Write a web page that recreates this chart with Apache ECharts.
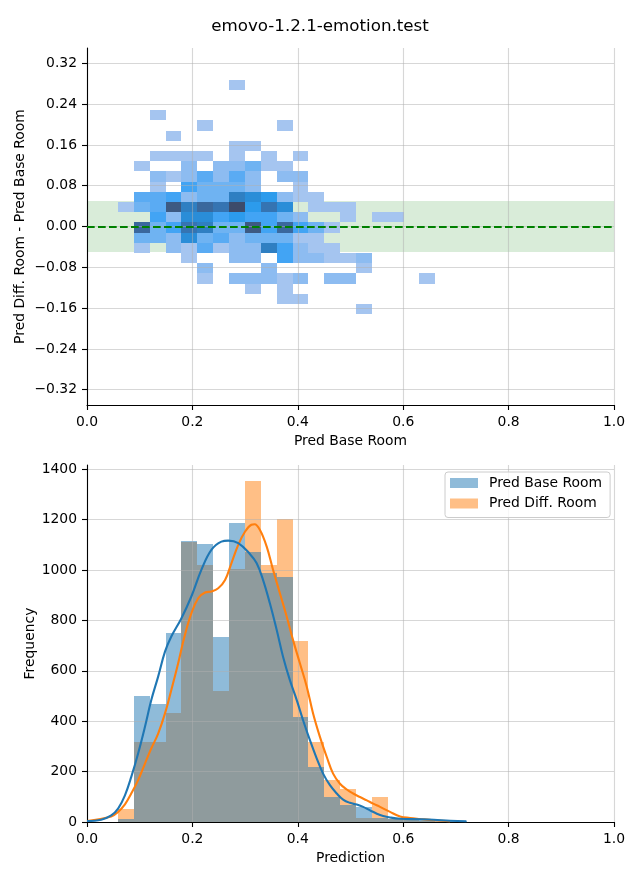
<!DOCTYPE html>
<html>
<head>
<meta charset="utf-8">
<script src="https://cdn.jsdelivr.net/npm/echarts@6/dist/echarts.min.js"></script>
<style>
html,body{margin:0;padding:0;background:#fff;}
#chart{width:640px;height:880px;}
</style>
</head>
<body>
<div id="chart"></div>
<script>
// ---------------- DATA ----------------
const titleText = 'emovo-1.2.1-emotion.test';
const seriesNames = ['Pred Base Room', 'Pred Diff. Room'];

// common histogram bins (x)
const xBinStart = 0.0589;
const xBinWidth = 0.0301;
// heatmap bins (y)
const yBinStart = -0.172;
const yBinHeight = 0.02;

// 2D histogram cells: [column, row, count]
const heatCells = [
  [7,22,1],
  [2,19,1],
  [5,18,1],[10,18,1],
  [3,17,1],
  [7,16,1],[8,16,1],
  [2,15,1],[3,15,1],[4,15,1],[5,15,1],[7,15,1],[9,15,1],[11,15,1],
  [1,14,1],[4,14,2],[6,14,2],[7,14,2],[8,14,3],[9,14,1],[10,14,1],
  [2,13,2],[3,13,1],[4,13,2],[5,13,4],[6,13,2],[7,13,4],[8,13,2],[10,13,2],[11,13,2],
  [2,12,1],[4,12,5],[5,12,3],[6,12,3],[7,12,3],[8,12,2],[11,12,1],
  [1,11,4],[2,11,4],[3,11,5],[4,11,2],[5,11,3],[6,11,3],[7,11,8],[8,11,7],[9,11,6],[10,11,2],[11,11,1],[12,11,1],
  [0,10,1],[1,10,3],[2,10,4],[3,10,11],[4,10,8],[5,10,10],[6,10,9],[7,10,12],[8,10,6],[9,10,9],[10,10,7],[12,10,1],[13,10,1],[14,10,1],
  [2,9,5],[3,9,2],[4,9,7],[5,9,7],[6,9,5],[7,9,6],[8,9,5],[9,9,5],[10,9,3],[11,9,2],[14,9,1],[16,9,1],[17,9,1],
  [1,8,10],[2,8,3],[3,8,5],[4,8,9],[5,8,8],[6,8,3],[7,8,3],[8,8,11],[9,8,5],[10,8,10],[11,8,5],[12,8,3],[13,8,1],
  [1,7,3],[2,7,3],[3,7,2],[4,7,7],[5,7,3],[6,7,4],[7,7,2],[8,7,3],[9,7,3],[10,7,3],[11,7,1],[12,7,1],
  [1,6,1],[3,6,2],[4,6,1],[5,6,4],[6,6,1],[7,6,2],[8,6,2],[9,6,8],[10,6,5],[11,6,2],[12,6,1],[13,6,1],
  [4,5,1],[7,5,2],[8,5,2],[10,5,5],[11,5,2],[12,5,2],[13,5,1],[14,5,1],[15,5,2],
  [5,4,2],[9,4,2],[15,4,1],
  [5,3,1],[7,3,2],[8,3,2],[9,3,2],[10,3,1],[11,3,2],[13,3,2],[14,3,2],[19,3,1],
  [8,2,1],[10,2,1],
  [10,1,1],[11,1,1],
  [15,0,1]
];

// 1D histogram counts per bin
const baseCounts = [13,501,469,752,1117,1103,736,1187,1071,987,971,417,218,98,66,60,16,13,10,8,5,5];
const diffCounts = [50,318,318,433,1112,1019,518,1003,1354,1019,1203,720,318,166,132,16,98,10,8,3,0,0];

// KDE curves: [x, frequency]
const baseKde = [
  [0.000,4],[0.027,9],[0.046,26],[0.059,53],[0.072,106],[0.084,179],[0.097,272],[0.110,378],
  [0.122,484],[0.135,577],[0.148,676],[0.160,736],[0.179,808],[0.198,895],[0.217,1001],
  [0.236,1080],[0.255,1113],[0.268,1117],[0.287,1107],[0.309,1064],[0.322,1027],[0.334,961],
  [0.347,868],[0.360,762],[0.372,656],[0.385,563],[0.398,484],[0.410,404],[0.423,325],
  [0.436,252],[0.448,192],[0.461,146],[0.474,113],[0.486,89],[0.499,76],[0.512,69],
  [0.524,60],[0.537,46],[0.550,33],[0.562,24],[0.575,18],[0.594,13],[0.632,11],[0.658,9],
  [0.689,5],[0.720,3]
];
const diffKde = [
  [0.000,4],[0.046,22],[0.059,40],[0.072,70],[0.084,113],[0.097,166],[0.110,232],[0.122,292],
  [0.135,351],[0.148,431],[0.160,524],[0.173,630],[0.185,736],[0.198,828],[0.211,888],
  [0.224,911],[0.236,915],[0.249,928],[0.262,961],[0.274,1027],[0.287,1100],[0.300,1153],
  [0.312,1180],[0.318,1182],[0.328,1160],[0.341,1093],[0.353,1001],[0.366,908],[0.379,815],
  [0.391,722],[0.404,630],[0.417,537],[0.429,431],[0.442,338],[0.455,258],[0.467,192],
  [0.480,152],[0.493,129],[0.505,113],[0.518,99],[0.531,86],[0.543,73],[0.556,60],
  [0.575,40],[0.594,22],[0.613,16],[0.632,12],[0.658,7],[0.689,3]
];

// reference band / line
const bandHalfWidth = 0.05;
const refLineY = 0;

// ticks
const xTicks = [0, 0.2, 0.4, 0.6, 0.8, 1.0];
const topYTicks = [-0.32, -0.24, -0.16, -0.08, 0, 0.08, 0.16, 0.24, 0.32];
const freqTicks = [0, 200, 400, 600, 800, 1000, 1200, 1400];
const topYRange = [-0.35, 0.35];
const freqRange = [0, 1417];

// ---------------- STYLE ----------------
const FONT = 'DejaVu Sans';
const heatColors = ['#a5c5f0','#8dbcf1','#6fb3f2','#5aabf3','#42a4f4','#2c9bec',
                    '#2a8dd8','#2f7fc2','#3574b2','#3a689d','#3d5a82','#3d4b6b'];
const blueFill = 'rgba(31,119,180,0.5)';
const orangeFill = 'rgba(255,127,14,0.5)';
const gridLine = {show:true, lineStyle:{color:'rgba(176,176,176,0.5)', width:1.1}};
const axisLineStyle = {show:true, onZero:false, lineStyle:{color:'#000', width:1.1}};
const tickStyle = {show:true, length:5, lineStyle:{color:'#000', width:1.1}};
const labelStyle = {color:'#000', fontFamily:FONT, fontSize:13.9};
const nameStyle = {color:'#000', fontFamily:FONT, fontSize:13.9};

function fmtX(v){ return v.toFixed(1); }
function fmtTopY(v){ const s = Math.abs(v).toFixed(2); return v < -1e-9 ? '\u2212' + s : s; }
function fmtFreq(v){ return String(Math.round(v)); }

// ---------------- BUILD ----------------
const heatData = heatCells.map(c => {
  const x0 = xBinStart + c[0] * xBinWidth;
  const y0 = yBinStart + c[1] * yBinHeight;
  return [x0, x0 + xBinWidth, y0, y0 + yBinHeight, c[2]];
});
function histData(counts){
  return counts.map((v, i) => [xBinStart + i * xBinWidth, xBinStart + (i + 1) * xBinWidth, v]);
}

function heatRender(params, api){
  const a = api.coord([api.value(0), api.value(3)]);
  const b = api.coord([api.value(1), api.value(2)]);
  const x = Math.round(a[0]), y = Math.round(a[1]);
  const w = Math.round(b[0]) - x, h = Math.round(b[1]) - y;
  return {type:'rect', shape:{x:x, y:y, width:w, height:h}, style:{fill: api.visual('color')}};
}
function barRender(params, api){
  const v = api.value(2);
  if (!(v > 0)) return null;
  const a = api.coord([api.value(0), v]);
  const b = api.coord([api.value(1), 0]);
  const x = Math.round(a[0]), y = Math.round(a[1]);
  const w = Math.round(b[0]) - x, h = Math.round(b[1]) - y;
  return {type:'rect', shape:{x:x, y:y, width:w, height:h}, style:{fill: api.visual('color')}};
}

const chart = echarts.init(document.getElementById('chart'), null, {renderer:'canvas'});
const option = {
  backgroundColor:'#fff',
  animation:false,
  title:{text:titleText, left:'center', top:13,
    textStyle:{fontFamily:FONT, fontSize:16.7, fontWeight:'normal', color:'#000'}},
  grid:[
    {left:87, top:48, width:527, height:357},
    {left:87, top:465, width:527, height:357}
  ],
  xAxis:[
    {type:'value', gridIndex:0, min:0, max:1, interval:0.2, z:3,
     name:'Pred Base Room', nameLocation:'middle', nameGap:29.5, nameTextStyle:nameStyle,
     nameMoveOverlap:false,
     axisLine:axisLineStyle, axisTick:tickStyle, splitLine:gridLine,
     axisLabel:Object.assign({margin:10, formatter:fmtX}, labelStyle)},
    {type:'value', gridIndex:1, min:0, max:1, interval:0.2, z:3,
     name:'Prediction', nameLocation:'middle', nameGap:29.5, nameTextStyle:nameStyle,
     nameMoveOverlap:false,
     axisLine:axisLineStyle, axisTick:tickStyle, splitLine:gridLine,
     axisLabel:Object.assign({margin:10, formatter:fmtX}, labelStyle)}
  ],
  yAxis:[
    {type:'value', gridIndex:0, min:topYRange[0], max:topYRange[1], z:3,
     name:'Pred Diff. Room - Pred Base Room', nameLocation:'middle', nameGap:60, nameTextStyle:nameStyle,
     nameMoveOverlap:false,
     axisLine:axisLineStyle,
     axisTick:Object.assign({customValues:topYTicks}, tickStyle),
     splitLine:gridLine,
     axisLabel:Object.assign({margin:10, customValues:topYTicks, formatter:fmtTopY}, labelStyle)},
    {type:'value', gridIndex:1, min:freqRange[0], max:freqRange[1], z:3,
     name:'Frequency', nameLocation:'middle', nameGap:50, nameTextStyle:nameStyle,
     nameMoveOverlap:false,
     axisLine:axisLineStyle,
     axisTick:Object.assign({customValues:freqTicks}, tickStyle),
     splitLine:gridLine,
     axisLabel:Object.assign({margin:10, customValues:freqTicks, formatter:fmtFreq}, labelStyle)}
  ],
  visualMap:[{type:'continuous', show:false, seriesIndex:1, dimension:4,
    min:1, max:12, inRange:{color:heatColors}}],
  legend:{
    data:seriesNames, orient:'vertical', left:445, top:472,
    itemWidth:28, itemHeight:10, itemGap:6.5, icon:'rect',
    padding:[4,8,7,5],
    backgroundColor:'rgba(255,255,255,0.8)', borderColor:'#cccccc', borderWidth:1, borderRadius:3,
    textStyle:{fontFamily:FONT, fontSize:13.9, color:'#000', lineHeight:14, padding:[0,0,0,6]},
    selectedMode:false
  },
  series:[
    {type:'line', name:'band', xAxisIndex:0, yAxisIndex:0, data:[], z:1, silent:true,
     markArea:{silent:true, itemStyle:{color:'rgba(0,128,0,0.15)'},
       data:[[{yAxis:refLineY - bandHalfWidth},{yAxis:refLineY + bandHalfWidth}]]}},
    {type:'custom', name:'counts2d', xAxisIndex:0, yAxisIndex:0, z:2, clip:true,
     renderItem:heatRender, encode:{x:[0,1], y:[2,3]}, data:heatData},
    {type:'line', name:'zero', xAxisIndex:0, yAxisIndex:0, data:[], z:4, silent:true,
     markLine:{silent:true, symbol:'none', label:{show:false},
       lineStyle:{color:'#008000', type:[7.7,3.3], width:2.1},
       data:[{yAxis:refLineY}]}},
    {type:'custom', name:seriesNames[1], xAxisIndex:1, yAxisIndex:1, z:2, clip:true,
     itemStyle:{color:orangeFill},
     renderItem:barRender, encode:{x:[0,1], y:2}, data:histData(diffCounts)},
    {type:'custom', name:seriesNames[0], xAxisIndex:1, yAxisIndex:1, z:2, clip:true,
     itemStyle:{color:blueFill},
     renderItem:barRender, encode:{x:[0,1], y:2}, data:histData(baseCounts)},
    {type:'line', name:'diffKde', xAxisIndex:1, yAxisIndex:1, z:4, smooth:0.4, symbol:'none',
     lineStyle:{color:'#ff7f0e', width:2.1}, itemStyle:{color:'#ff7f0e'}, data:diffKde},
    {type:'line', name:'baseKde', xAxisIndex:1, yAxisIndex:1, z:4, smooth:0.4, symbol:'none',
     lineStyle:{color:'#1f77b4', width:2.1}, itemStyle:{color:'#1f77b4'}, data:baseKde}
  ]
};
chart.setOption(option);
</script>
</body>
</html>
